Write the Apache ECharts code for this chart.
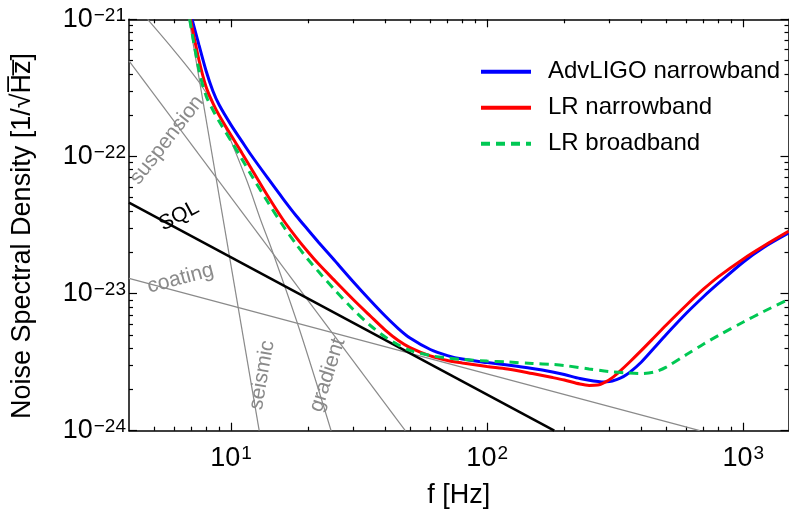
<!DOCTYPE html>
<html><head><meta charset="utf-8">
<script src="https://cdn.jsdelivr.net/npm/echarts@6/dist/echarts.min.js"></script>
<style>html,body{margin:0;padding:0;background:#fff}#c{width:789px;height:509px}</style>
</head><body><div id="c"></div>
<script>
// ---- data (frequency in Hz, noise spectral density in 1/sqrt(Hz)) ----
const blueF = [7.05,7.5,8,8.5,9,10,11,12,14,16,18,20,22,25,30,35,40,45,50,60,70,80,100,120,150,180,200,230,260,280,300,320,340,360,400,450,500,600,700,800,1000,1200,1500];
const blueH = [1e-21,6.50e-22,4.20e-22,3.00e-22,2.37e-22,1.70e-22,1.30e-22,1.02e-22,6.85e-23,4.89e-23,3.68e-23,2.91e-23,2.36e-23,1.80e-23,1.22e-23,8.90e-24,6.86e-24,5.56e-24,4.74e-24,3.91e-24,3.53e-24,3.33e-24,3.14e-24,3.01e-24,2.84e-24,2.68e-24,2.57e-24,2.40e-24,2.30e-24,2.27e-24,2.28e-24,2.36e-24,2.48e-24,2.66e-24,3.17e-24,4.04e-24,5.03e-24,7.21e-24,9.52e-24,1.19e-23,1.70e-23,2.17e-23,2.76e-23];

const redF = [6.95,7.5,8,8.5,9,10,11,12,14,16,18,20,22,25,30,35,40,45,50,60,70,80,100,120,150,180,200,230,250,270,290,310,330,360,400,450,500,600,700,800,1000,1200,1500];
const redH = [1e-21,5.05e-22,3.21e-22,2.45e-22,1.99e-22,1.43e-22,1.07e-22,8.17e-23,5.06e-23,3.44e-23,2.56e-23,2.01e-23,1.64e-23,1.28e-23,9.05e-24,6.86e-24,5.42e-24,4.55e-24,4.04e-24,3.51e-24,3.25e-24,3.12e-24,2.94e-24,2.82e-24,2.61e-24,2.44e-24,2.34e-24,2.19e-24,2.14e-24,2.15e-24,2.27e-24,2.46e-24,2.72e-24,3.17e-24,3.85e-24,4.82e-24,5.90e-24,8.25e-24,1.08e-23,1.33e-23,1.79e-23,2.22e-23,2.84e-23];

const greenF = [6.9,7.5,8,8.5,9,10,11,12,14,16,18,20,22,25,30,35,40,45,50,60,70,80,100,120,150,180,200,250,300,350,400,450,500,600,700,800,1000,1200,1500];
const greenH = [1e-21,4.27e-22,2.76e-22,2.18e-22,1.80e-22,1.30e-22,9.66e-23,7.32e-23,4.57e-23,3.11e-23,2.28e-23,1.77e-23,1.44e-23,1.10e-23,7.65e-24,5.85e-24,4.82e-24,4.22e-24,3.85e-24,3.53e-24,3.39e-24,3.31e-24,3.22e-24,3.17e-24,3.09e-24,3.04e-24,2.99e-24,2.82e-24,2.70e-24,2.64e-24,2.61e-24,2.68e-24,2.91e-24,3.59e-24,4.29e-24,4.95e-24,6.20e-24,7.40e-24,9.05e-24];

const sqlF = [4, 182.8];
const sqlH = [4.60e-23, 1e-24];
const coatingF = [4, 676];
const coatingH = [1.29e-23, 1e-24];
const suspensionF = [4, 47.9];
const suspensionH = [4.97e-22, 1e-24];
const seismicF = [6.86, 12.89];
const seismicH = [1e-21, 1e-24];
const gradientF = [4.73, 5.98, 7.55, 9.2, 11.51, 13.06, 14.45, 18.54, 24.6];
const gradientH = [1e-21, 5.97e-22, 3.43e-22, 1.844e-22, 6.73e-23, 3.44e-23, 2.08e-23, 5.42e-24, 1e-24];

const xRange = [4, 1500];
const yRange = [1e-24, 1e-21];
const xMajorTicks = [10, 100, 1000];
const xMinorTicks = [5,6,7,8,9,20,30,40,50,60,70,80,90,200,300,400,500,600,700,800,900];
const yMajorTicks = [1e-24, 1e-23, 1e-22, 1e-21];
const yMinorTicks = [2e-24,3e-24,4e-24,5e-24,6e-24,7e-24,8e-24,9e-24,2e-23,3e-23,4e-23,5e-23,6e-23,7e-23,8e-23,9e-23,2e-22,3e-22,4e-22,5e-22,6e-22,7e-22,8e-22,9e-22];

const seriesNames = ['AdvLIGO narrowband', 'LR narrowband', 'LR broadband'];
const lineLabels = ['suspension', 'SQL', 'coating', 'seismic', 'gradient'];

// ---- build ----
const L = v => Math.log10(v);
const pts = (fs, hs) => fs.map((f, i) => [L(f), L(hs[i])]);
const FONT = 'Liberation Sans, Arial, Helvetica, sans-serif';

function powLabel(v) {
  const n = Math.round(v);
  const s = n < 0 ? '\u2212' + Math.abs(n) : String(n);
  return '{b|10}{s|' + s + '}';
}
const rich = {
  b: {fontSize: 27, fontFamily: FONT, color: '#000'},
  s: {fontSize: 19, fontFamily: FONT, color: '#000', verticalAlign: 'top', padding: [0, 0, 0, 1]}
};

function xAx(pos, major, show) {
  return {
    type: 'value', min: L(xRange[0]), max: L(xRange[1]), position: pos,
    axisLine: {show: major, lineStyle: {color: '#000', width: 1.5}},
    axisTick: {show: true, inside: true, length: major ? 8 : 4,
      customValues: (major ? xMajorTicks : xMinorTicks).map(L),
      lineStyle: {color: '#000', width: 1.2}},
    axisLabel: show ? {show: true, customValues: xMajorTicks.map(L), formatter: powLabel, rich: rich, margin: 14} : {show: false},
    splitLine: {show: false},
    name: show ? 'f [Hz]' : '', nameLocation: 'middle', nameGap: 51,
    nameTextStyle: {fontSize: 27, fontFamily: FONT, color: '#000'}
  };
}
function yAx(pos, major, show) {
  return {
    type: 'value', min: L(yRange[0]), max: L(yRange[1]), position: pos,
    axisLine: {show: major, lineStyle: {color: '#000', width: 1.5}},
    axisTick: {show: true, inside: true, length: major ? 8 : 4,
      customValues: (major ? yMajorTicks : yMinorTicks).map(L),
      lineStyle: {color: '#000', width: 1.2}},
    axisLabel: show ? {show: true, customValues: yMajorTicks.map(L), formatter: powLabel, rich: rich, margin: 3} : {show: false},
    splitLine: {show: false},
    name: show ? 'Noise Spectral Density [1/\u221AH\u0305z\u0305]' : '', nameLocation: 'middle', nameGap: 93,
    nameTextStyle: {fontSize: 27, fontFamily: FONT, color: '#000', padding: [0, 22, 0, 0]}
  };
}

const gray = '#8a8a8a';
function refLine(fs, hs, color, width, smooth) {
  return {type: 'line', xAxisIndex: 0, yAxisIndex: 0, data: pts(fs, hs), symbol: 'none', silent: true,
    smooth: smooth ? 0.3 : false,
    lineStyle: {color: color, width: width}, itemStyle: {color: color}, z: 2};
}
function curve(name, fs, hs, color, dash) {
  return {type: 'line', name: name, xAxisIndex: 0, yAxisIndex: 0, data: pts(fs, hs), symbol: 'none',
    smooth: 0.3, silent: true,
    lineStyle: {color: color, width: 3, type: dash ? [9, 6] : 'solid'}, itemStyle: {color: color}, z: 5};
}

function txt(t, x, y, deg, color, size) {
  return {type: 'text', x: x, y: y, rotation: -deg * Math.PI / 180, silent: true, z: 10,
    style: {text: t, fill: color, font: size + 'px ' + FONT, align: 'center', verticalAlign: 'middle'}};
}

const chart = echarts.init(document.getElementById('c'), null, {renderer: 'canvas'});
chart.setOption({
  animation: false,
  backgroundColor: '#fff',
  grid: {left: 129, right: 0.5, top: 19.3, bottom: 78.3, containLabel: false, outerBoundsMode: 'none'},
  xAxis: [xAx('bottom', true, true), xAx('bottom', false, false), xAx('top', true, false), xAx('top', false, false)],
  yAxis: [yAx('left', true, true), yAx('left', false, false), yAx('right', true, false), yAx('right', false, false)],
  legend: {
    data: seriesNames, orient: 'vertical', left: 479, top: 59.7, padding: 0,
    itemWidth: 50, itemHeight: 14, itemGap: 12,
    itemStyle: {opacity: 0},
    lineStyle: {width: 4},
    textStyle: {fontSize: 24, fontFamily: FONT, color: '#000', padding: [0, 0, 0, 12]}
  },
  series: [
    refLine(suspensionF, suspensionH, gray, 1.2, false),
    refLine(seismicF, seismicH, gray, 1.2, false),
    refLine(gradientF, gradientH, gray, 1.2, true),
    refLine(coatingF, coatingH, gray, 1.2, false),
    refLine(sqlF, sqlH, '#000', 2.5, false),
    curve(seriesNames[0], blueF, blueH, '#0000ff', false),
    curve(seriesNames[1], redF, redH, '#ff0000', false),
    curve(seriesNames[2], greenF, greenH, '#00c853', true)
  ],
  graphic: [
    txt(lineLabels[0], 167, 140, -52, gray, 21),
    txt(lineLabels[1], 179, 216, -28, '#000', 21),
    txt(lineLabels[2], 180.5, 278.5, -15, gray, 21),
    txt(lineLabels[3], 262, 375, -80, gray, 21),
    txt(lineLabels[4], 327.5, 375, -72, gray, 21)
  ]
});
</script></body></html>
